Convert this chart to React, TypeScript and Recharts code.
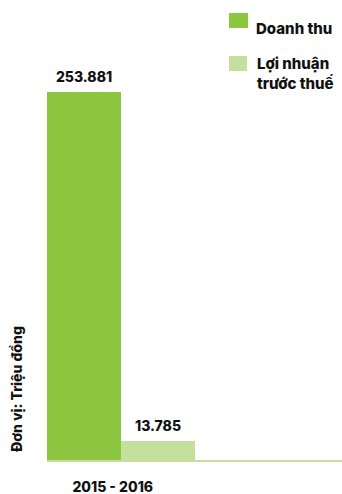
import React from "react";
import { BarChart, Bar, XAxis, YAxis, Legend, LabelList } from "recharts";

const categories = ["2015 - 2016", ""];
const revenue = [253.881, null];
const profit = [13.785, null];
const seriesNames = ["Doanh thu", "Lợi nhuận trước thuế"];
const unitLabel = "Đơn vị: Triệu đồng";

const DARK = "#8dc63f";
const LIGHT = "#c5e09d";
const FONT = "Inter, 'Open Sans', sans-serif";

const data = categories.map((c, i) => ({ name: c, revenue: revenue[i], profit: profit[i] }));

const fmt = (v: any) => (v == null ? "" : v.toFixed(3));

const renderLegend = () => (
  <div style={{ fontFamily: FONT, fontWeight: 800, fontSize: 15, color: "#111" }}>
    <div style={{ display: "flex", alignItems: "flex-start", height: 47 }}>
      <div style={{ width: 19, height: 15, background: DARK, marginTop: 5, marginRight: 8 }} />
      <div style={{ lineHeight: "20px", marginTop: 11 }}>{seriesNames[0]}</div>
    </div>
    <div style={{ display: "flex", alignItems: "flex-start" }}>
      <div style={{ width: 19, height: 15, background: LIGHT, marginTop: 1, marginRight: 10 }} />
      <div style={{ lineHeight: "20px", width: 90, marginTop: -1 }}>{seriesNames[1]}</div>
    </div>
  </div>
);

const Tick = (props: any) => {
  const { x, y, payload } = props;
  if (!payload.value) return null;
  return (
    <text x={x - 8} y={y + 23} textAnchor="middle" fontFamily={FONT} fontWeight={800} fontSize={14} fill="#111">
      {payload.value}
    </text>
  );
};

const UnitLabel = () => (
  <text
    x={22}
    y={389}
    transform="rotate(-90 22 389)"
    textAnchor="middle"
    fontFamily={FONT}
    fontWeight={800}
    fontSize={14}
    fill="#111"
  >
    {unitLabel}
  </text>
);

export default function App() {
  return (
    <div style={{ position: "absolute", left: 0, top: 0 }}>
      <BarChart
        width={342}
        height={494}
        data={data}
        margin={{ top: 92, right: 0, left: 0, bottom: 3 }}
        barGap={0}
        barCategoryGap={0}
      >
        <YAxis width={47} domain={[0, 253.881]} tick={false} axisLine={false} tickLine={false} label={<UnitLabel />} />
        <XAxis dataKey="name" height={30} tick={<Tick />} tickLine={false} axisLine={{ stroke: LIGHT, strokeWidth: 2 }} interval={0} />
        <Legend
          layout="horizontal"
          align="center"
          verticalAlign="middle"
          content={renderLegend}
          wrapperStyle={{ top: 8, left: 229, width: 113 }}
        />
        <Bar dataKey="revenue" fill={DARK} isAnimationActive={false}>
          <LabelList dataKey="revenue" position="top" offset={10} formatter={fmt} fontFamily={FONT} fontWeight={800} fontSize={14} fill="#111" />
        </Bar>
        <Bar dataKey="profit" fill={LIGHT} isAnimationActive={false}>
          <LabelList dataKey="profit" position="top" offset={10} formatter={fmt} fontFamily={FONT} fontWeight={800} fontSize={14} fill="#111" />
        </Bar>
      </BarChart>
    </div>
  );
}
